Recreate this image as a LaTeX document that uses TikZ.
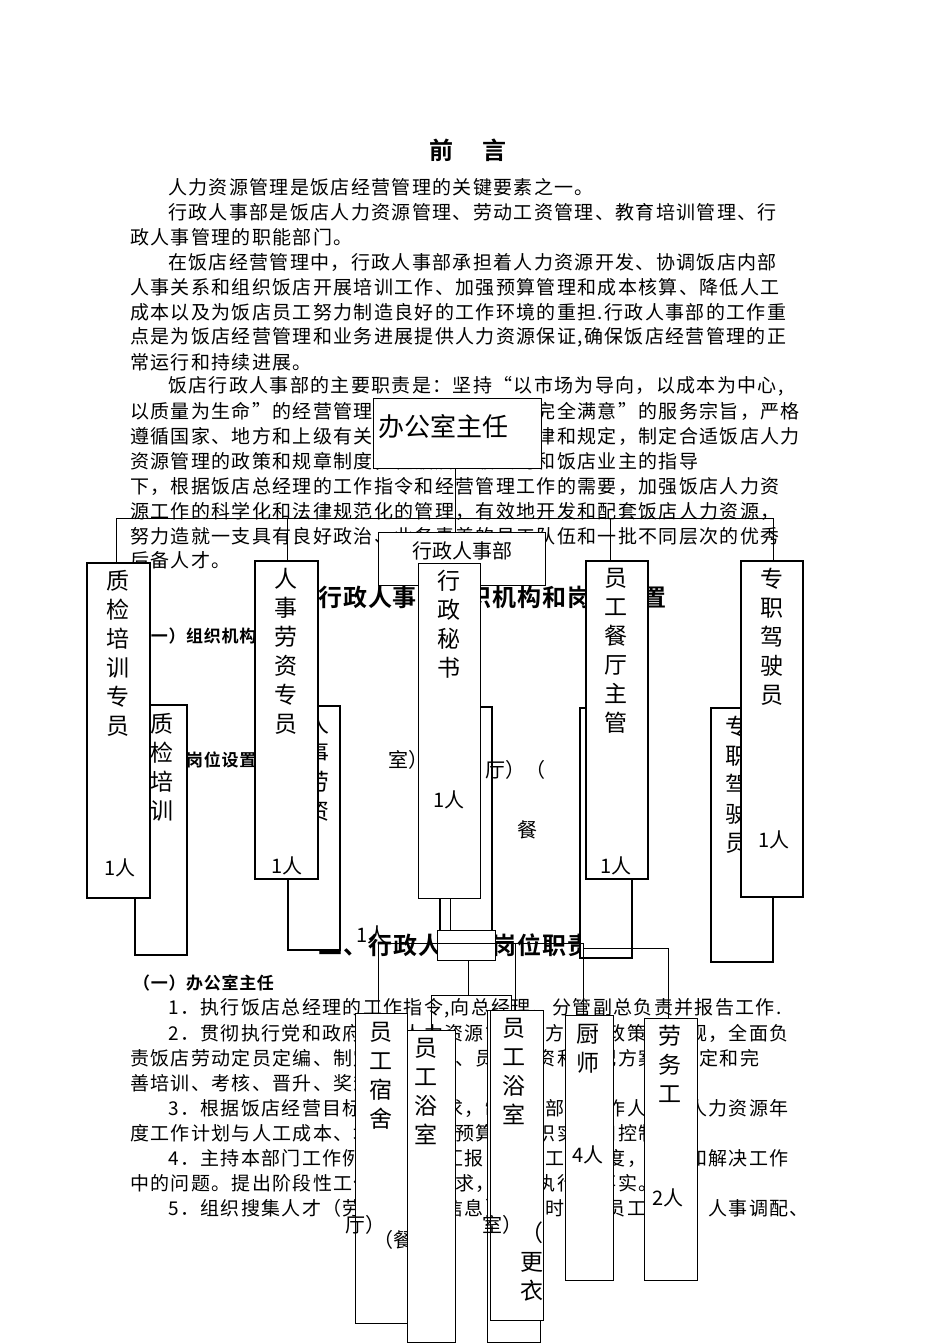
\documentclass[tikz,border=0pt]{standalone}
\usepackage{fontspec}
\newfontfamily\cjk[LetterSpace=7]{Noto Sans CJK SC}
\newfontfamily\cjkb[LetterSpace=4]{Noto Sans CJK SC Bold}
\newfontfamily\cjkv{Noto Sans CJK SC}
\tikzset{
 bodyline/.style={anchor=west,inner sep=0,font=\cjk\fontsize{19}{19}\selectfont},
 headA/.style={anchor=west,inner sep=0,font=\cjkb\fontsize{24}{24}\selectfont},
 headB/.style={anchor=west,inner sep=0,font=\cjkb\fontsize{17}{17}\selectfont},
 pbox/.style={draw,fill=white,line width=1.2pt},
 vtext/.style={anchor=north,inner sep=0,align=center,font=\cjkv\fontsize{23}{29}\selectfont},
 ptext/.style={inner sep=0,font=\cjkv\fontsize{20}{20}\selectfont},
 conn/.style={line width=1pt}
}
\begin{document}
\begin{tikzpicture}[x=1pt,y=-1pt]
\useasboundingbox[fill=white] (0,0) rectangle (950,1344);
% ---- text ----
\node[font=\cjkb\fontsize{24}{24}\selectfont,inner sep=0] (t0) at (468,150) {前\hspace{1.2em}言};
\node[bodyline] (l1) at (168,187) {人力资源管理是饭店经营管理的关键要素之一。};
\node[bodyline] (l2) at (168,212) {行政人事部是饭店人力资源管理、劳动工资管理、教育培训管理、行};
\node[bodyline] (l3) at (130,237) {政人事管理的职能部门。};
\node[bodyline] (l4) at (168,262) {在饭店经营管理中，行政人事部承担着人力资源开发、协调饭店内部};
\node[bodyline] (l5) at (130,287) {人事关系和组织饭店开展培训工作、加强预算管理和成本核算、降低人工};
\node[bodyline] (l6) at (130,312) {成本以及为饭店员工努力制造良好的工作环境的重担.行政人事部的工作重};
\node[bodyline] (l7) at (130,337) {点是为饭店经营管理和业务进展提供人力资源保证,确保饭店经营管理的正};
\node[bodyline] (l8) at (130,362) {常运行和持续进展。};
\node[bodyline] (l9) at (168,386) {饭店行政人事部的主要职责是：坚持“以市场为导向，以成本为中心,};
\node[bodyline] (l10) at (130,411) {以质量为生命”的经营管理理念，坚持“宾客完全满意”的服务宗旨，严格};
\node[bodyline] (l11) at (130,436) {遵循国家、地方和上级有关人力资源管理的法律和规定，制定合适饭店人力};
\node[bodyline] (l12) at (130,461) {资源管理的政策和规章制度，在饭店上级公司和饭店业主的指导};
\node[bodyline] (l13) at (130,486) {下，根据饭店总经理的工作指令和经营管理工作的需要，加强饭店人力资};
\node[bodyline] (l14) at (130,511) {源工作的科学化和法律规范化的管理，有效地开发和配套饭店人力资源，};
\node[bodyline] (l15) at (130,536) {努力造就一支具有良好政治、业务素养的员工队伍和一批不同层次的优秀};
\node[bodyline] (l16) at (130,560) {后备人才。};
\node[headA] (h1) at (268,597) {一、行政人事部组织机构和岗位设置};
\node[headB] (h2) at (133,636) {（一）组织机构};
\node[headB] (h3) at (133,760) {（二）岗位设置};
\node[headA] (h4) at (318,945) {二、行政人事部岗位职责};
\node[headB] (h5) at (133,983) {（一）办公室主任};
\node[bodyline] (m1) at (168,1008) {1．执行饭店总经理的工作指令,向总经理、分管副总负责并报告工作.};
\node[bodyline] (m2) at (168,1033) {2．贯彻执行党和政府有关人力资源管理的方针、政策和法规，全面负};
\node[bodyline] (m3) at (130,1058) {责饭店劳动定员定编、制定人事管理、员工工资和分配方案，制定和完};
\node[bodyline] (m4) at (130,1083) {善培训、考核、晋升、奖惩等制度。};
\node[bodyline] (m5) at (168,1108) {3．根据饭店经营目标和管理要求，制定本部门工作人员和人力资源年};
\node[bodyline] (m6) at (130,1133) {度工作计划与人工成本、培训费用等预算并组织实施和控制。};
\node[bodyline] (m7) at (168,1158) {4．主持本部门工作例会，听取汇报，督促工作进度，协调和解决工作};
\node[bodyline] (m8) at (130,1183) {中的问题。提出阶段性工作目标和要求，督促执行和落实。};
\node[bodyline] (m9) at (168,1208) {5．组织搜集人才（劳动力市场信息），随时掌握员工状况、人事调配、};
% ---- connectors (upper) ----
\coordinate (hL) at (116,518); \coordinate (hR) at (773,518);
\draw[conn] (hL) -- (hR);
\draw[conn] (455,468) -- (455,563);
\draw[conn] (hL) -- (116,563);
\draw[conn] (287,518) -- (287,563);
\draw[conn] (610,518) -- (610,563);
\draw[conn] (hR) -- (773,563);
% ---- back boxes ----
\node[pbox,minimum width=52pt,minimum height=250pt] (bq) at (161,830) {};
\node[vtext] (bqt) at (162,713) {质\\检\\培\\训};
\node[pbox,minimum width=52pt,minimum height=244pt] (br) at (314,828) {};
\node[vtext] (brt) at (318,713) {人\\事\\劳\\资};
\node[pbox,minimum width=52pt,minimum height=248pt] (bx) at (466,831) {};
\node[pbox,minimum width=52pt,minimum height=250pt] (bc) at (606,833) {};
\node[pbox,minimum width=62pt,minimum height=254pt] (bd) at (742,835) {};
\node[vtext] (bdt) at (737,716) {专\\职\\驾\\驶\\员};
\node[ptext] (bx1) at (408,760) {室）};
\node[ptext] (bx2) at (515,770) {厅）（};
\node[ptext] (bx3) at (527,830) {餐};
\node[ptext] (bx4) at (372,935) {1人};
% ---- front boxes (upper) ----
\node[pbox,minimum width=63pt,minimum height=335pt] (q) at (118.5,730.5) {};
\node[vtext] (qt) at (118,570) {质\\检\\培\\训\\专\\员};
\node[ptext] (qn) at (120,868) {1人};
\node[pbox,minimum width=63pt,minimum height=318pt] (r) at (286.5,720) {};
\node[vtext] (rt) at (286,568) {人\\事\\劳\\资\\专\\员};
\node[ptext] (rn) at (287,866) {1人};
\node[pbox,minimum width=62pt,minimum height=318pt] (c) at (617,720) {};
\node[vtext] (ct) at (616,568) {员\\工\\餐\\厅\\主\\管};
\node[ptext] (cn) at (616,866) {1人};
\node[pbox,minimum width=62pt,minimum height=336pt] (d) at (772,729) {};
\node[vtext] (dt) at (772,568) {专\\职\\驾\\驶\\员};
\node[ptext] (dn) at (774,840) {1人};
\node[pbox,minimum width=168pt,minimum height=70pt,anchor=north west] (boss) at (373,398) {};
\node[font=\cjkv\fontsize{26}{26}\selectfont,inner sep=0] (bosst) at (443,427) {办公室主任};
\node[pbox,minimum width=167pt,minimum height=53pt,anchor=north west] (dept) at (378,532) {};
\node[font=\cjkv\fontsize{20}{20}\selectfont,inner sep=0] (deptt) at (462,551) {行政人事部};
\node[pbox,minimum width=62pt,minimum height=335pt,anchor=north west] (x) at (418,563) {};
\node[vtext] (xt) at (449,570) {行\\政\\秘\\书};
\node[ptext] (xn) at (449,800) {1人};
% ---- lower connectors ----
\draw[conn] (450,898) -- (450,945);
\node[pbox,minimum width=58pt,minimum height=30pt,anchor=north west] (sm) at (437,930) {};
\draw[conn] (378,943) -- (583,943);
\draw[conn] (583,948) -- (668,948);
\draw[conn] (378,943) -- (378,1013);
\draw[conn] (468,960) -- (468,995);
\draw[conn] (431,995) -- (511,995);
\draw[conn] (431,995) -- (431,1030);
\draw[conn] (511,995) -- (511,1010);
\draw[conn] (515,943) -- (515,1010);
\draw[conn] (583,943) -- (583,1015);
\draw[conn] (668,948) -- (668,1018);
% ---- lower boxes ----
\node[pbox,minimum width=52pt,minimum height=310pt,anchor=north west] (dorm) at (355,1013) {};
\node[vtext] (dormt) at (381,1022) {员\\工\\宿\\舍};
\node[ptext] (dorm1) at (365,1225) {厅）};
\node[ptext] (dorm2) at (393,1240) {（餐};
\node[pbox,minimum width=48pt,minimum height=312pt,anchor=north west] (bath1) at (407,1030) {};
\node[vtext] (bath1t) at (426,1038) {员\\工\\浴\\室};
\node[pbox,minimum width=53pt,minimum height=332pt,anchor=north west] (bath2b) at (487,1010) {};
\node[pbox,minimum width=53pt,minimum height=310pt,anchor=north west] (bath2) at (490,1010) {};
\node[vtext] (bath2t) at (514,1018) {员\\工\\浴\\室};
\node[ptext] (bath21) at (502,1225) {室）};
\node[vtext] (bath22) at (532,1222) {（\\更\\衣};
\node[pbox,minimum width=48pt,minimum height=265pt,anchor=north west] (chef) at (565,1015) {};
\node[vtext] (cheft) at (588,1024) {厨\\师};
\node[ptext] (chefn) at (588,1155) {4人};
\node[pbox,minimum width=53pt,minimum height=262pt,anchor=north west] (lab) at (644,1018) {};
\node[vtext] (labt) at (670,1025) {劳\\务\\工};
\node[ptext] (labn) at (668,1198) {2人};
\end{tikzpicture}
\end{document}
